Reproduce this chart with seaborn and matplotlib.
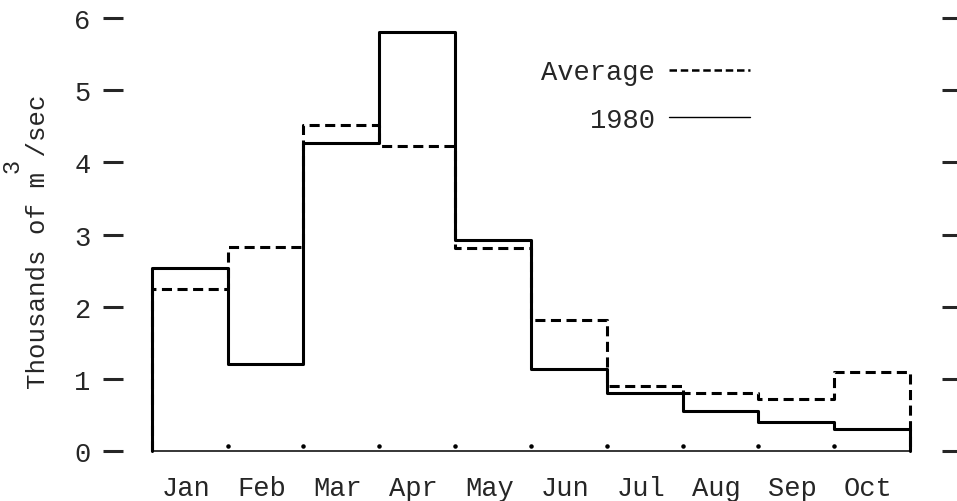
import matplotlib
matplotlib.use("Agg")
import matplotlib.pyplot as plt
import numpy as np
import pandas as pd
import seaborn as sns

# Date (mii de m^3/sec)
luni = ["Jan", "Feb", "Mar", "Apr", "May", "Jun", "Jul", "Aug", "Sep", "Oct"]
debit_1980 = [2.53, 1.21, 4.27, 5.80, 2.93, 1.13, 0.80, 0.56, 0.40, 0.31]
debit_mediu = [2.25, 2.83, 4.52, 4.22, 2.82, 1.82, 0.90, 0.81, 0.72, 1.09]
y_ticks = [0, 1, 2, 3, 4, 5, 6]


def main():
    sns.set_style("white")
    plt.rcParams["font.family"] = ["Liberation Mono", "DejaVu Sans Mono"]
    fs = 19.5

    fig = plt.figure(figsize=(9.57, 5.02), dpi=100)
    ax = fig.add_axes([0.1285, 0.0709, 0.8558, 0.9199])

    n = len(luni)
    margini = np.arange(n + 1)
    centre = margini[:-1] + 0.5

    # Contur in trepte: 0 -> valori -> 0 la capete
    def contur(valori):
        x = np.concatenate([[margini[0]], margini, [margini[-1]]])
        y = np.concatenate([[0], valori, [valori[-1], 0]])
        return pd.DataFrame({"x": x, "y": y})

    dash = (0, (3.3, 1.8))
    sns.lineplot(data=contur(debit_mediu), x="x", y="y", estimator=None, sort=False,
                 drawstyle="steps-post", color="black", linewidth=2.2,
                 linestyle=dash, ax=ax)
    sns.lineplot(data=contur(debit_1980), x="x", y="y", estimator=None, sort=False,
                 drawstyle="steps-post", color="black", linewidth=2.2, ax=ax)

    # Linia de baza si punctele de la marginile lunilor
    ax.hlines(0, margini[0], margini[-1], color="black", lw=1.1)
    ax.scatter(margini[1:-1], np.full(n - 1, 0.07), s=5, color="black", zorder=3)

    # Legenda (text la stanga liniei)
    ax.plot([], [], color="black", lw=1.8, linestyle=(0, (3, 1.5)), label="Average")
    ax.plot([], [], color="black", lw=1.0, label="1980")
    ax.legend(loc="upper right", bbox_to_anchor=(750 / 957, 1 - 60 / 502),
              bbox_transform=fig.transFigure, frameon=False, markerfirst=False,
              fontsize=fs, handlelength=3.0, handletextpad=0.5,
              labelspacing=0.8, borderpad=0, borderaxespad=0)

    ax.set_xlim(-0.38, 10.42)
    ax.set_ylim(-0.2, 6.2)
    ax.set_xticks(centre - 0.05)
    ax.set_xticklabels(luni, fontsize=fs)
    ax.set_yticks(y_ticks)
    ax.set_yticklabels([str(v) for v in y_ticks], fontsize=fs)
    ax.tick_params(axis="x", length=0, pad=7)
    ax.tick_params(axis="y", direction="out", length=14.4, width=2.2,
                   pad=9, left=True, right=True, labelright=False)
    for s in ax.spines.values():
        s.set_visible(False)

    # Eticheta axei Y cu exponent "3" ridicat
    ax.set_xlabel("")
    ax.set_ylabel("Thousands of m /sec", fontsize=18.5)
    ax.yaxis.set_label_coords(-0.089, 0.486)
    fig.text(12 / 957, 1 - 166 / 502, "3", rotation=90, fontsize=17,
             ha="center", va="center")

    fig.savefig("out.png", dpi=100)


if __name__ == "__main__":
    main()
